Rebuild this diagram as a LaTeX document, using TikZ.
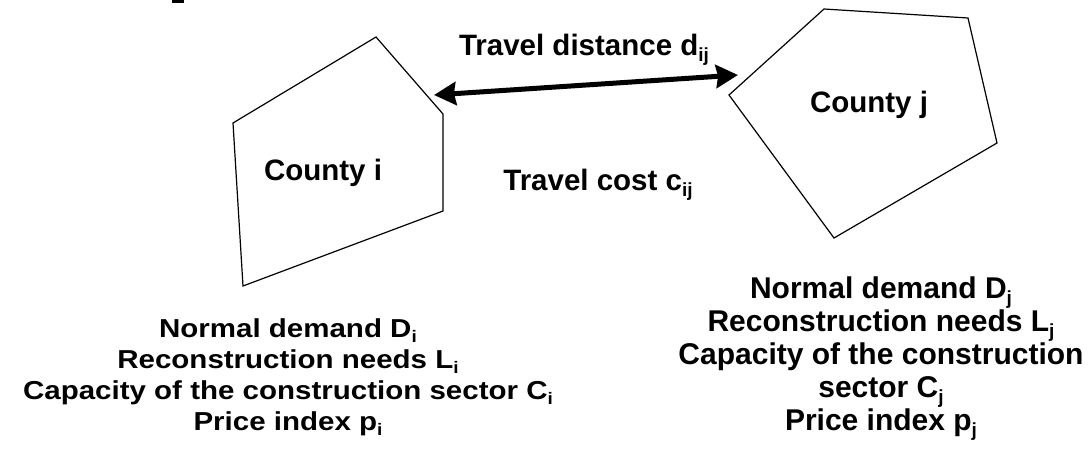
\documentclass[tikz,border=0pt]{standalone}
\usepackage{graphicx}
\usepackage{fontspec}
\setmainfont{Liberation Sans}
\usetikzlibrary{arrows.meta}
\newcommand\subs[1]{\raisebox{-6pt}{\fontsize{19}{19}\selectfont #1}}
\newcommand\sqz[1]{\scalebox{1}[0.88]{#1}}
\begin{document}
\begin{tikzpicture}[x=1pt,y=-1pt,
  county/.style={draw=black, line width=1.2pt, line join=miter},
  txt/.style={inner sep=0pt, anchor=base, font=\bfseries\fontsize{29.5}{35}\selectfont},
  txtr/.style={txt, font=\bfseries\fontsize{30}{35}\selectfont},
  link/.style={line width=5pt,
    {Stealth[length=22pt,width=23pt,inset=2pt]}-{Stealth[length=22pt,width=23pt,inset=2pt]}}
]
\useasboundingbox (0,0) rectangle (1089,448);
% fragment at top
\fill[black] (172,0) rectangle (184,3);
% counties
\draw[county] (376,37) -- (443,114) -- (443,211) -- (243,286) -- (233,123) -- cycle;
\draw[county] (824,9) -- (968,18) -- (997,143) -- (834,238) -- (729,95) -- cycle;
\node[txt] (ci) at (323,180) {County i};
\node[txt] (cj) at (869,112) {County j};
% link
\coordinate (ai) at (434,95);
\coordinate (aj) at (738,75);
\draw[link] (ai) -- (aj);
\node[txt] (dist) at (584,55) {Travel distance d\subs{ij}};
\node[txt] (cost) at (598,190) {Travel cost c\subs{ij}};
% left block
\node[txt] (li1) at (288,337) {\sqz{Normal demand D\subs{i}}};
\node[txt] (li2) at (288,368) {\sqz{Reconstruction needs L\subs{i}}};
\node[txt] (li3) at (288,399) {\sqz{Capacity of the construction sector C\subs{i}}};
\node[txt] (li4) at (288,430) {\sqz{Price index p\subs{i}}};
% right block
\node[txtr] (rj1) at (881,298) {Normal demand D\subs{j}};
\node[txtr] (rj2) at (881,331) {Reconstruction needs L\subs{j}};
\node[txtr] (rj3) at (881,364) {Capacity of the construction};
\node[txtr] (rj4) at (881,397) {sector C\subs{j}};
\node[txtr] (rj5) at (881,430) {Price index p\subs{j}};
\end{tikzpicture}
\end{document}
